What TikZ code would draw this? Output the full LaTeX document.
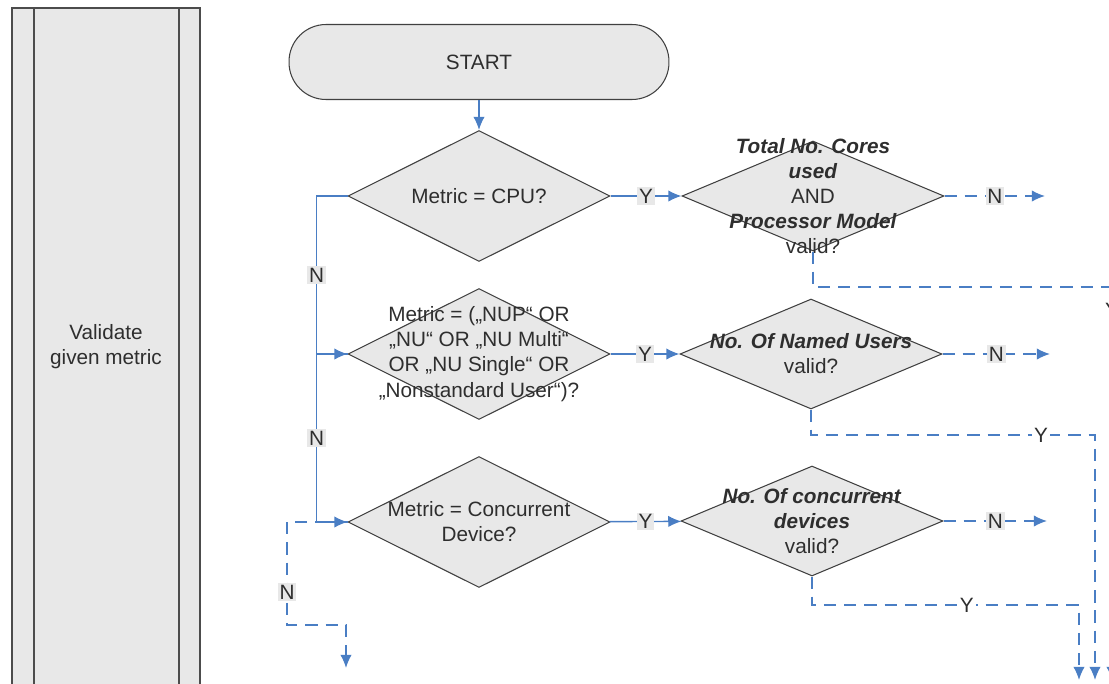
\documentclass[tikz,border=0pt]{standalone}
\usepackage{fontspec}
\setmainfont{Liberation Sans}
\usetikzlibrary{shapes.geometric, arrows.meta}
\definecolor{flowblue}{RGB}{74,126,196}
\definecolor{boxgray}{RGB}{232,232,232}

\begin{document}
\begin{tikzpicture}[x=0.02cm,y=-0.02cm,>={Latex[length=7.5pt,width=6.5pt]},
    every node/.style={font=\fontsize{11.8}{14.3}\selectfont,text=black!82},
    every label/.style={align=center},
    test node/.style={diamond,draw=black!75,fill=boxgray,line width=0.6pt,inner sep=0pt,minimum width=5.24cm,minimum height=2.62cm},
    check node/.style={test node,minimum height=2.2cm},
    term node/.style={rectangle,rounded corners=0.74cm,draw=black!75,fill=boxgray,line width=0.6pt,minimum width=7.6cm,minimum height=1.5cm},
    lane node/.style={rectangle,draw=black!70,fill=boxgray,line width=1.1pt,minimum width=3.76cm,minimum height=13.56cm,align=center},
    flow line/.style={->,draw=flowblue,line width=0.8pt},
    dash line/.style={flow line,dash pattern=on 7pt off 4.5pt},
    tag node/.style={fill=boxgray,inner sep=1pt},
    white tag/.style={fill=white,inner sep=1pt}]

\useasboundingbox (0,0) rectangle (1109,683);
\clip (0,0) rectangle (1109,683);

% swim lane
\node[lane node] (lane) at (106,347) {Validate\\given metric};
\draw[draw=black!70,line width=1.1pt] ([xshift=0.46cm]lane.north west) -- ([xshift=0.46cm]lane.south west);
\draw[draw=black!70,line width=1.1pt] ([xshift=-0.44cm]lane.north east) -- ([xshift=-0.44cm]lane.south east);

% metric tests
\node[term node] (start) at (479,62) {START};
\node[test node, label={center:{Metric = CPU?}}] (d1) at (479,196) {};
\node[test node, label={center:{Metric = („NUP“ OR\\„NU“ OR „NU Multi“\\OR „NU Single“ OR\\„Nonstandard User“)?}}] (d2) at (479,354) {};
\node[test node, label={center:{Metric = Concurrent\\Device?}}] (d3) at (479,522) {};

% validity checks
\node[check node, label={center:{\textbf{\textit{Total No. Cores}}\\\textbf{\textit{used}}\\AND\\\textbf{\textit{Processor Model}}\\valid?}}] (d4) at (813,196) {};
\node[check node, label={center:{\textbf{\textit{No. Of Named Users}}\\valid?}}] (d5) at (811,354) {};
\node[check node, label={center:{\textbf{\textit{No. Of concurrent}}\\\textbf{\textit{devices}}\\valid?}}] (d6) at (812,521) {};

% loose ends
\coordinate (out3) at (346,668);
\coordinate (n4) at (1045,196);
\coordinate (n5) at (1050,354);
\coordinate (n6) at (1047,521);
\coordinate (y4) at (1112,680);
\coordinate (y5) at (1095,680);
\coordinate (y6) at (1079,680);

\draw[dash line] (d3.west) -- (287,522) -- node[tag node,pos=0.68]{N} (287,625) -| (out3);

\draw[flow line] (start) -- (d1);
\draw[flow line] (d1) -- node[tag node]{Y} (d4);
\draw[flow line] (d2) -- node[tag node]{Y} (d5);
\draw[flow line] (d3) -- node[tag node]{Y} (d6);
\draw[flow line] (d1.west) -- ++(-31,0) |- node[tag node,pos=0.25]{N} (d2.west);
\draw[flow line] (d2.west) -- ++(-31,0) |- node[tag node,pos=0.25]{N} (d3.west);

\draw[dash line] (d4.east) -- node[tag node]{N} (n4);
\draw[dash line] (d5.east) -- node[tag node]{N} (n5);
\draw[dash line] (d6.east) -- node[tag node]{N} (n6);

\draw[dash line] (d4.south) -- (813,287) -- (1112,287) -- node[white tag,pos=0.06]{Y} (y4);
\draw[dash line] (d5.south) -- (811,435) -- node[white tag,pos=0.81]{Y} (1095,435) -- (y5);
\draw[dash line] (d6.south) -- (812,605) -- node[white tag,pos=0.58]{Y} (1079,605) -- (y6);
\end{tikzpicture}
\end{document}
